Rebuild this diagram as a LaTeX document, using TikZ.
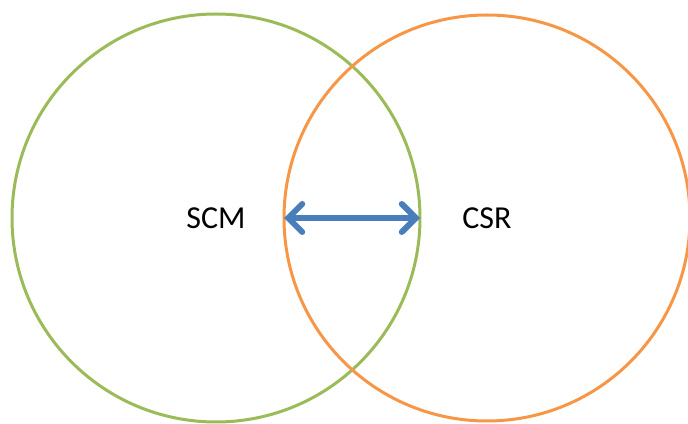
\documentclass[tikz,border=0pt]{standalone}
\usepackage{fontspec}
\setmainfont{Carlito}
\usetikzlibrary{arrows.meta}
\definecolor{ringgreen}{HTML}{9BBB59}
\definecolor{ringorange}{HTML}{F79646}
\definecolor{linkblue}{HTML}{4A7EBB}
\begin{document}
\begin{tikzpicture}[x=1pt, y=1pt,
                    ring/.style = {shape = circle,
                                   line width = 3pt,
                                   inner sep = 0pt,
                                   outer sep = 0pt,
                                   font = \fontsize{32}{38}\selectfont,
                                   draw},
                    link/.style = {color = linkblue,
                                   line width = 6pt,
                                   {Straight Barb[length=14pt, width=28pt, line cap=round]}-{Straight Barb[length=14pt, width=28pt, line cap=round]}}]
		\useasboundingbox (0,0) rectangle (688,423);
		\node[ring, ringgreen, text = black, minimum size = 408pt] (scm) at (216,205) {SCM};
		\node[ring, ringorange, text = black, minimum size = 406pt] (csr) at (487,205) {CSR};
		\draw[link] (csr.west) -- (scm.east);
	\end{tikzpicture}
\end{document}
